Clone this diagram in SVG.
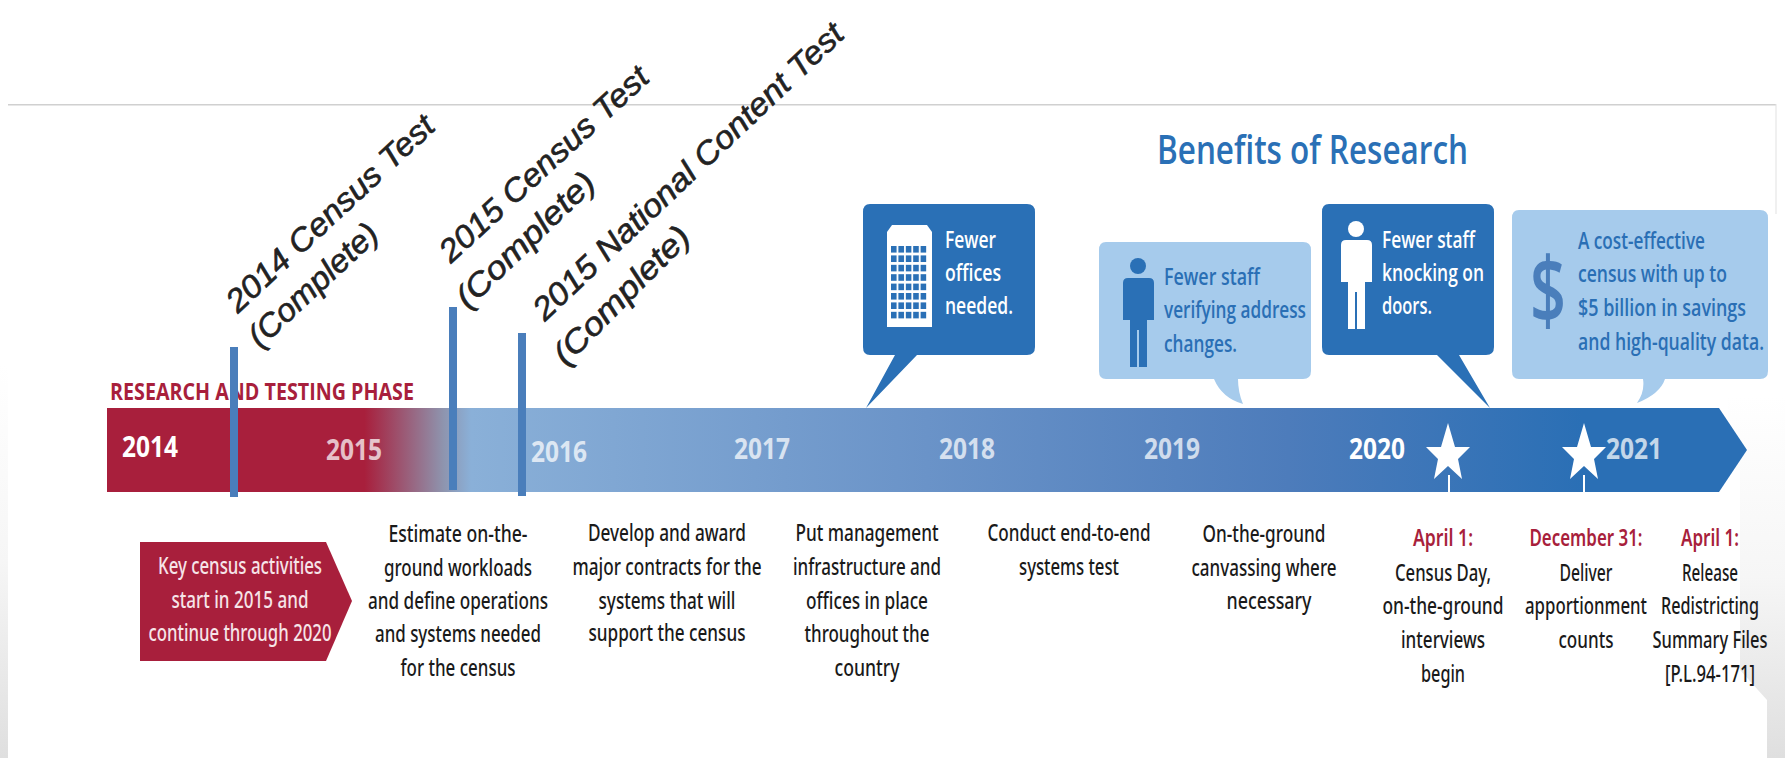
<svg xmlns="http://www.w3.org/2000/svg" width="1785" height="758" viewBox="0 0 1785 758">
<defs>
<linearGradient id="bar" gradientUnits="userSpaceOnUse" x1="107" x2="1747" y1="0" y2="0">
<stop offset="0" stop-color="#a81f3c"/><stop offset="0.157" stop-color="#a81f3c"/><stop offset="0.205" stop-color="#8e94ae"/><stop offset="0.222" stop-color="#8ab0d8"/><stop offset="0.5" stop-color="#6a93c8"/><stop offset="0.72" stop-color="#4d7cbb"/><stop offset="0.9" stop-color="#2a6fb5"/><stop offset="1" stop-color="#2a6fb5"/>
</linearGradient>
<linearGradient id="bg" x1="0" x2="0" y1="0" y2="1"><stop offset="0" stop-color="#ffffff"/><stop offset="0.5" stop-color="#f6f6f6"/><stop offset="1" stop-color="#dfdfdf"/></linearGradient>
<pattern id="win" patternUnits="userSpaceOnUse" x="891" y="246" width="7.4" height="9.4"><rect width="5.6" height="6.6" fill="#2a70b6"/></pattern>
</defs>
<style>
text{font-family:"Open Sans","Liberation Sans",sans-serif}
.d{font-size:23px;font-weight:500;fill:#1a1a1a;text-anchor:middle;font-family:"Noto Sans","Liberation Sans",sans-serif}
.k{fill:#f6e4e8}
.r{fill:#a81f3c;font-weight:600}
.y{font-size:29px;font-weight:700;fill:#fff;opacity:.72;text-anchor:middle;font-family:"Open Sans","Liberation Sans",sans-serif}
.o{opacity:1}
.rot{font-family:"Liberation Sans",Arial,sans-serif;font-style:italic;font-size:32px;fill:#222;stroke:#222;stroke-width:.6}
.wb{font-size:23px;fill:#fff;font-weight:600}
.lb{font-size:23px;fill:#2a6fb5;font-weight:600}
.dk{fill:#2a70b6}.lt{fill:#a6cbec}
.mark{fill:#4a7ebb}
.ph{font-size:24px;font-weight:700;fill:#a81f3c}
.ti{font-size:40px;font-weight:600;fill:#2a70b6}
.dl{font-size:92px;font-weight:600;fill:#4a7ebb;text-anchor:middle}
</style>
<rect width="1785" height="758" fill="#fff"/>
<rect x="0" y="365" width="8" height="393" fill="url(#bg)"/>
<path d="M1728 396H1785V758H1767V700L1740 670V470H1735V440H1728Z" fill="url(#bg)"/>
<rect x="8" y="104" width="1768" height="1.5" fill="#d0d0d0"/>
<rect x="1775.5" y="104" width="1" height="110" fill="#e2e2e2"/>
<g id="bar-phase">
<path d="M107 408H1719L1747 450L1719 492H107Z" fill="url(#bar)"/>
<text class="ph" x="110" y="400" textLength="304" lengthAdjust="spacingAndGlyphs">RESEARCH AND TESTING PHASE</text>
<text class="y o" x="150" y="457" textLength="56" lengthAdjust="spacingAndGlyphs">2014</text>
<text class="y" x="354" y="460" textLength="56" lengthAdjust="spacingAndGlyphs">2015</text>
<text class="y" x="559" y="462" textLength="56" lengthAdjust="spacingAndGlyphs">2016</text>
<text class="y" x="762" y="459" textLength="56" lengthAdjust="spacingAndGlyphs">2017</text>
<text class="y" x="967" y="459" textLength="56" lengthAdjust="spacingAndGlyphs">2018</text>
<text class="y" x="1172" y="459" textLength="56" lengthAdjust="spacingAndGlyphs">2019</text>
<text class="y o" x="1377" y="459" textLength="56" lengthAdjust="spacingAndGlyphs">2020</text>
<text class="y" x="1634" y="459" textLength="56" lengthAdjust="spacingAndGlyphs">2021</text>
</g>
<g id="stars" fill="#fff">
<path d="M1448 423L1455 447H1470L1458 459L1462 479L1448 466L1434 479L1438 459L1426 447H1441Z"/>
<rect x="1448" y="475" width="2" height="17"/>
<path d="M1584 423L1591 447H1606L1594 459L1598 479L1584 466L1570 479L1574 459L1562 447H1577Z"/>
<rect x="1583" y="475" width="2" height="17"/>
</g>
<g id="node-offices">
<path class="dk" d="M870 204H1027Q1035 204 1035 212V347Q1035 355 1027 355H917L866 408L895 355H870Q863 355 863 347V212Q863 204 870 204Z"/>
<path fill="#fff" d="M887 232L892 225H927L932 232V327H887Z"/>
<rect x="891" y="246" width="36" height="75" fill="url(#win)"/>
<text class="wb" x="945" y="248" textLength="51" lengthAdjust="spacingAndGlyphs">Fewer</text>
<text class="wb" x="945" y="281" textLength="56" lengthAdjust="spacingAndGlyphs">offices</text>
<text class="wb" x="945" y="314" textLength="68" lengthAdjust="spacingAndGlyphs">needed.</text>
</g>
<g id="node-verify">
<path class="lt" d="M1106 242H1303Q1311 242 1311 250V371Q1311 379 1303 379H1238Q1238 392 1243 404Q1222 398 1214 379H1106Q1099 379 1099 371V250Q1099 242 1106 242Z"/>
<g fill="#2a70b6"><circle cx="1138" cy="266" r="8"/><path d="M1128 278H1149Q1154 278 1154 283V320H1147V367H1139V330H1137V367H1130V320H1123V283Q1123 278 1128 278Z"/></g>
<text class="lb" x="1164" y="285" textLength="96" lengthAdjust="spacingAndGlyphs">Fewer staff</text>
<text class="lb" x="1164" y="318" textLength="142" lengthAdjust="spacingAndGlyphs">verifying address</text>
<text class="lb" x="1164" y="352" textLength="73" lengthAdjust="spacingAndGlyphs">changes.</text>
</g>
<g id="node-knock">
<path class="dk" d="M1329 204H1486Q1494 204 1494 212V347Q1494 355 1486 355H1459L1490 408L1437 355H1329Q1322 355 1322 347V212Q1322 204 1329 204Z"/>
<g fill="#fff"><circle cx="1356" cy="229" r="8"/><path d="M1346 240H1367Q1372 240 1372 245V282H1365V329H1357V292H1355V329H1348V282H1341V245Q1341 240 1346 240Z"/></g>
<text class="wb" x="1382" y="248" textLength="93" lengthAdjust="spacingAndGlyphs">Fewer staff</text>
<text class="wb" x="1382" y="281" textLength="102" lengthAdjust="spacingAndGlyphs">knocking on</text>
<text class="wb" x="1382" y="314" textLength="50" lengthAdjust="spacingAndGlyphs">doors.</text>
</g>
<g id="node-savings">
<path class="lt" d="M1519 210H1760Q1768 210 1768 218V371Q1768 379 1760 379H1665Q1660 394 1637 403Q1645 392 1643 379H1519Q1512 379 1512 371V218Q1512 210 1519 210Z"/>
<text class="dl" x="1548" y="324" textLength="36" lengthAdjust="spacingAndGlyphs">$</text>
<text class="lb" x="1578" y="249" textLength="127" lengthAdjust="spacingAndGlyphs">A cost-effective</text>
<text class="lb" x="1578" y="282" textLength="149" lengthAdjust="spacingAndGlyphs">census with up to</text>
<text class="lb" x="1578" y="316" textLength="168" lengthAdjust="spacingAndGlyphs">$5 billion in savings</text>
<text class="lb" x="1578" y="350" textLength="186" lengthAdjust="spacingAndGlyphs">and high-quality data.</text>
</g>
<text class="ti" x="1157" y="164" textLength="311" lengthAdjust="spacingAndGlyphs">Benefits of Research</text>
<g id="markers">
<rect class="mark" x="230" y="347" width="8" height="150"/>
<rect class="mark" x="449" y="307" width="8" height="183"/>
<rect class="mark" x="518" y="333" width="8" height="163"/>
</g>
<g id="label-2014"><text class="rot" transform="translate(238 314) rotate(-43)" textLength="272" lengthAdjust="spacingAndGlyphs">2014 Census Test</text><text class="rot" transform="translate(260 349) rotate(-43)" textLength="165" lengthAdjust="spacingAndGlyphs">(Complete)</text></g>
<g id="label-2015"><text class="rot" transform="translate(451 264) rotate(-42.6)" textLength="272" lengthAdjust="spacingAndGlyphs">2015 Census Test</text><text class="rot" transform="translate(468 310) rotate(-44)" textLength="180" lengthAdjust="spacingAndGlyphs">(Complete)</text></g>
<g id="label-nct"><text class="rot" transform="translate(545 322) rotate(-43.5)" textLength="415" lengthAdjust="spacingAndGlyphs">2015 National Content Test</text><text class="rot" transform="translate(566 367) rotate(-45.5)" textLength="180" lengthAdjust="spacingAndGlyphs">(Complete)</text></g>
<g id="node-key">
<path d="M140 542H326L352 601L326 661H140Z" fill="#a81f3c"/>
<text class="d k" x="240" y="574" textLength="164" lengthAdjust="spacingAndGlyphs">Key census activities</text>
<text class="d k" x="240" y="608" textLength="137" lengthAdjust="spacingAndGlyphs">start in 2015 and</text>
<text class="d k" x="240" y="641" textLength="183" lengthAdjust="spacingAndGlyphs">continue through 2020</text>
</g>
<g id="desc-2015">
<text class="d" x="458" y="542" textLength="139" lengthAdjust="spacingAndGlyphs">Estimate on-the-</text>
<text class="d" x="458" y="576" textLength="148" lengthAdjust="spacingAndGlyphs">ground workloads</text>
<text class="d" x="458" y="609" textLength="180" lengthAdjust="spacingAndGlyphs">and define operations</text>
<text class="d" x="458" y="642" textLength="166" lengthAdjust="spacingAndGlyphs">and systems needed</text>
<text class="d" x="458" y="676" textLength="115" lengthAdjust="spacingAndGlyphs">for the census</text>
</g>
<g id="desc-2016">
<text class="d" x="667" y="541" textLength="158" lengthAdjust="spacingAndGlyphs">Develop and award</text>
<text class="d" x="667" y="575" textLength="189" lengthAdjust="spacingAndGlyphs">major contracts for the</text>
<text class="d" x="667" y="609" textLength="137" lengthAdjust="spacingAndGlyphs">systems that will</text>
<text class="d" x="667" y="641" textLength="157" lengthAdjust="spacingAndGlyphs">support the census</text>
</g>
<g id="desc-2017">
<text class="d" x="867" y="541" textLength="143" lengthAdjust="spacingAndGlyphs">Put management</text>
<text class="d" x="867" y="575" textLength="148" lengthAdjust="spacingAndGlyphs">infrastructure and</text>
<text class="d" x="867" y="609" textLength="122" lengthAdjust="spacingAndGlyphs">offices in place</text>
<text class="d" x="867" y="642" textLength="125" lengthAdjust="spacingAndGlyphs">throughout the</text>
<text class="d" x="867" y="676" textLength="65" lengthAdjust="spacingAndGlyphs">country</text>
</g>
<g id="desc-2018">
<text class="d" x="1069" y="541" textLength="163" lengthAdjust="spacingAndGlyphs">Conduct end-to-end</text>
<text class="d" x="1069" y="575" textLength="100" lengthAdjust="spacingAndGlyphs">systems test</text>
</g>
<g id="desc-2019">
<text class="d" x="1264" y="542" textLength="123" lengthAdjust="spacingAndGlyphs">On-the-ground</text>
<text class="d" x="1264" y="576" textLength="145" lengthAdjust="spacingAndGlyphs">canvassing where</text>
<text class="d" x="1269" y="609" textLength="85" lengthAdjust="spacingAndGlyphs">necessary</text>
</g>
<g id="desc-apr2020">
<text class="d r" x="1443" y="546" textLength="60" lengthAdjust="spacingAndGlyphs">April 1:</text>
<text class="d" x="1443" y="581" textLength="96" lengthAdjust="spacingAndGlyphs">Census Day,</text>
<text class="d" x="1443" y="614" textLength="121" lengthAdjust="spacingAndGlyphs">on-the-ground</text>
<text class="d" x="1443" y="648" textLength="84" lengthAdjust="spacingAndGlyphs">interviews</text>
<text class="d" x="1443" y="682" textLength="44" lengthAdjust="spacingAndGlyphs">begin</text>
</g>
<g id="desc-dec2020">
<text class="d r" x="1586" y="546" textLength="113" lengthAdjust="spacingAndGlyphs">December 31:</text>
<text class="d" x="1586" y="581" textLength="53" lengthAdjust="spacingAndGlyphs">Deliver</text>
<text class="d" x="1586" y="614" textLength="122" lengthAdjust="spacingAndGlyphs">apportionment</text>
<text class="d" x="1586" y="648" textLength="55" lengthAdjust="spacingAndGlyphs">counts</text>
</g>
<g id="desc-apr2021">
<text class="d r" x="1710" y="546" textLength="58" lengthAdjust="spacingAndGlyphs">April 1:</text>
<text class="d" x="1710" y="581" textLength="56" lengthAdjust="spacingAndGlyphs">Release</text>
<text class="d" x="1710" y="614" textLength="98" lengthAdjust="spacingAndGlyphs">Redistricting</text>
<text class="d" x="1710" y="648" textLength="115" lengthAdjust="spacingAndGlyphs">Summary Files</text>
<text class="d" x="1710" y="682" textLength="90" lengthAdjust="spacingAndGlyphs">[P.L.94-171]</text>
</g>
</svg>
